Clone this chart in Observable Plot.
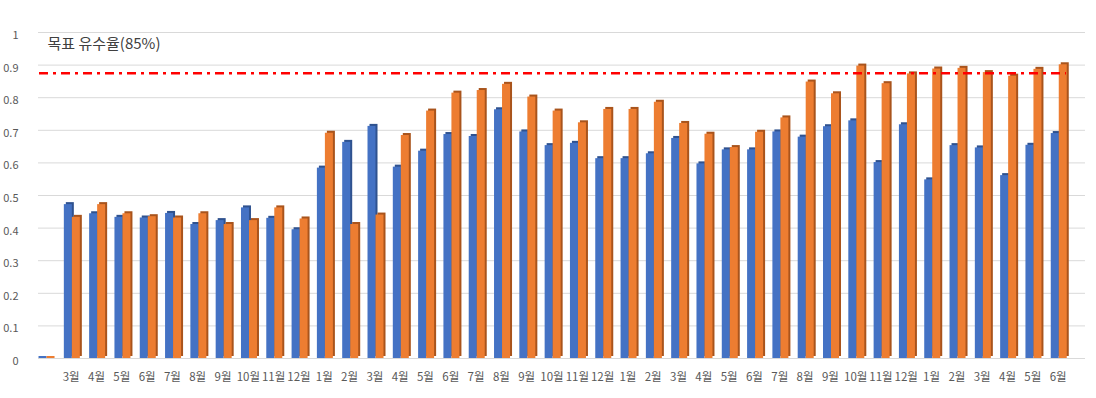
<!DOCTYPE html>
<html>
<head>
<meta charset="utf-8">
<script src="https://cdn.jsdelivr.net/npm/d3@7"></script>
<script src="https://cdn.jsdelivr.net/npm/@observablehq/plot@0.6"></script>
<style>
  html, body { margin: 0; padding: 0; background: #fff; }
  #chart svg { display: block; font-family: "Noto Sans CJK KR", "Noto Sans", sans-serif; }
</style>
</head>
<body>
<div id="chart"></div>
<script>
// Category labels (first category is blank)
const monthLabels = ["", "3월","4월","5월","6월","7월","8월","9월","10월","11월","12월",
  "1월","2월","3월","4월","5월","6월","7월","8월","9월","10월","11월","12월",
  "1월","2월","3월","4월","5월","6월","7월","8월","9월","10월","11월","12월",
  "1월","2월","3월","4월","5월","6월"];

// Blue series values
const blueValues = [0, 0.472,0.444,0.433,0.431,0.445,0.411,0.423,0.462,0.430,0.395,
  0.584,0.663,0.712,0.587,0.636,0.687,0.681,0.763,0.695,0.653,0.660,0.613,
  0.613,0.628,0.675,0.597,0.640,0.640,0.695,0.679,0.711,0.729,0.601,0.717,
  0.548,0.653,0.646,0.561,0.654,0.690];

// Orange series values
const orangeValues = [0, 0.433,0.472,0.444,0.435,0.431,0.444,0.411,0.423,0.462,0.428,
  0.691,0.411,0.440,0.684,0.759,0.814,0.822,0.841,0.802,0.759,0.723,0.764,
  0.764,0.786,0.721,0.688,0.647,0.694,0.738,0.848,0.812,0.897,0.843,0.873,
  0.888,0.890,0.877,0.866,0.887,0.901];

const yTicks = [0,0.1,0.2,0.3,0.4,0.5,0.6,0.7,0.8,0.9,1];
const targetValue = [0.875];
const targetLabel = ["목표 유수율(85%)"];

const rows = monthLabels.map((m, i) => ({i, blue: blueValues[i], orange: orangeValues[i]}));
const idx = rows.map(d => d.i);
const zeroRows = rows.filter(d => d.blue === 0 && d.orange === 0);

// geometry helpers
const W = 1096, mL = 36, mR = 25;
const pIn = 0.3, pOut = 0.1;
const step = (W - mL - mR) / (idx.length - pIn + 2 * pOut);
const bw = step * (1 - pIn);
const face = 8, side = 2;

const plot = Plot.plot({
  width: W,
  height: 398,
  marginTop: 32,
  marginBottom: 40,
  marginLeft: mL,
  marginRight: mR,
  style: {fontFamily: '"Noto Sans CJK KR", "Noto Sans", sans-serif', background: "#fff"},
  x: {type: "band", domain: idx, paddingInner: pIn, paddingOuter: pOut, round: false},
  y: {domain: [0, 1]},
  marks: [
    Plot.ruleY(yTicks, {stroke: "#d9d9d9", strokeWidth: 1, insetLeft: 2, insetRight: -14}),
    Plot.axisY({ticks: yTicks, tickSize: 0, tickPadding: 18, dy: 3, fontSize: 11, fill: "#595959", tickFormat: d3.format("~g"), label: null}),
    Plot.axisX({tickSize: 0, tickPadding: 14, dx: -2, fontSize: 11.5, fill: "#595959", tickFormat: i => monthLabels[i], label: null}),
    // blue side (3D)
    Plot.barY(rows, {x: "i", y: "blue", fill: "#2F528F", insetLeft: side, insetRight: bw - face - side, dy: -2}),
    // blue front
    Plot.barY(rows, {x: "i", y: "blue", fill: "#4472C4", insetRight: bw - face}),
    // orange side
    Plot.barY(rows, {x: "i", y: "orange", fill: "#A9541C", insetLeft: face + side, insetRight: bw - 2 * face - side, dy: -2}),
    // orange front
    Plot.barY(rows, {x: "i", y: "orange", fill: "#ED7D31", insetLeft: face, insetRight: bw - 2 * face}),
    // flat slabs for zero-valued bars
    Plot.barY(zeroRows, {x: "i", y: "blue", fill: "#4472C4", insetRight: bw - face, insetTop: -2}),
    Plot.barY(zeroRows, {x: "i", y: "orange", fill: "#ED7D31", insetLeft: face, insetRight: bw - 2 * face, insetTop: -2}),
    // target line
    Plot.ruleY(targetValue, {stroke: "#ff0000", strokeWidth: 2.5, strokeDasharray: "9,5,3,5", insetLeft: 3, insetRight: 5}),
    Plot.text(targetLabel, {frameAnchor: "top-left", dx: 11, dy: 6, fontSize: 15, fill: "#404040", textAnchor: "start"})
  ]
});
document.getElementById("chart").appendChild(plot);
</script>
</body>
</html>
